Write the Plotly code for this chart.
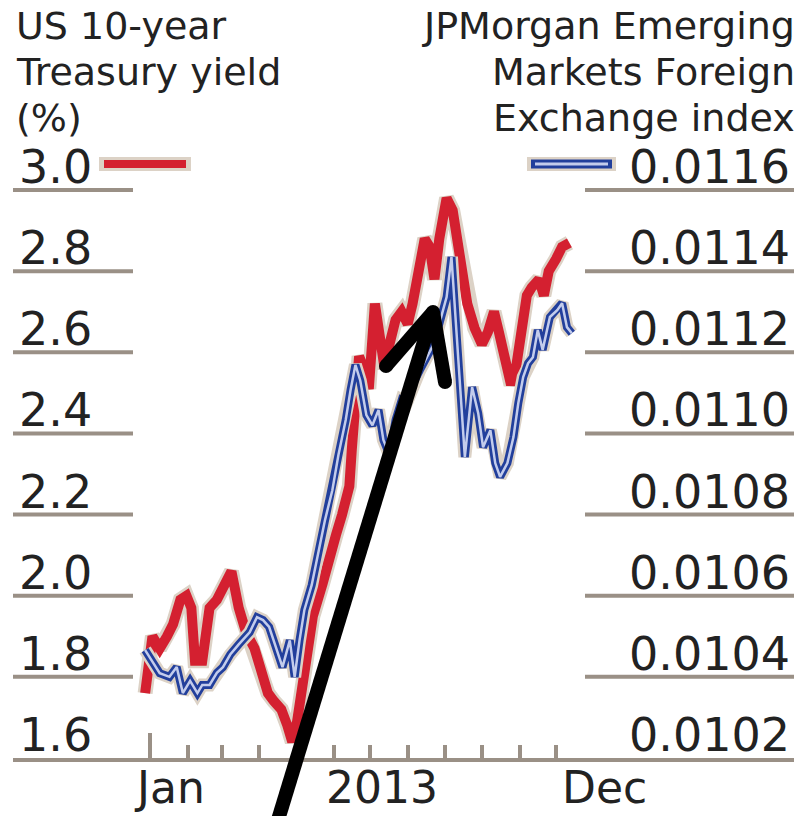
import pandas as pd
import plotly.graph_objects as go

# --- data -------------------------------------------------------------
yield_dates = [
    "2012-12-28", "2013-01-03", "2013-01-05", "2013-01-09", "2013-01-15", "2013-01-20",
    "2013-01-26", "2013-01-31", "2013-02-04", "2013-02-07", "2013-02-13", "2013-02-19",
    "2013-02-25", "2013-03-03", "2013-03-09", "2013-03-15", "2013-03-21", "2013-03-28",
    "2013-04-03", "2013-04-08", "2013-04-13", "2013-04-19", "2013-04-24", "2013-04-28",
    "2013-05-02", "2013-05-07", "2013-05-11", "2013-05-15", "2013-05-23", "2013-05-29",
    "2013-06-03", "2013-06-08", "2013-06-14", "2013-06-16", "2013-06-19", "2013-06-22",
    "2013-06-26", "2013-06-30", "2013-07-05", "2013-07-09", "2013-07-13", "2013-07-17",
    "2013-07-22", "2013-07-27", "2013-08-01", "2013-08-05", "2013-08-09", "2013-08-15",
    "2013-08-19", "2013-08-23", "2013-08-27", "2013-09-02", "2013-09-07", "2013-09-11",
    "2013-09-15", "2013-09-19", "2013-09-25", "2013-10-01", "2013-10-06", "2013-10-11",
    "2013-10-15", "2013-10-21", "2013-10-25", "2013-10-29", "2013-11-02", "2013-11-07",
    "2013-11-11", "2013-11-17", "2013-11-21", "2013-11-25", "2013-12-01", "2013-12-06",
    "2013-12-12",
]
us10y_yield = [
    1.76, 1.90, 1.89, 1.87, 1.90, 1.93,
    1.99, 2.00, 1.97, 1.84, 1.84, 1.97,
    1.99, 2.02, 2.06, 1.97, 1.91, 1.87,
    1.81, 1.76, 1.74, 1.72, 1.68, 1.64,
    1.69, 1.79, 1.85, 1.95, 2.03, 2.11,
    2.15, 2.20, 2.27, 2.36, 2.48, 2.59,
    2.56, 2.51, 2.72, 2.65, 2.56, 2.62,
    2.68, 2.70, 2.67, 2.72, 2.79, 2.88,
    2.86, 2.78, 2.88, 2.98, 2.95, 2.88,
    2.80, 2.72, 2.66, 2.62, 2.65, 2.70,
    2.65, 2.58, 2.52, 2.56, 2.66, 2.74,
    2.76, 2.78, 2.74, 2.80, 2.83, 2.86,
    2.87,
]

fx_dates = [
    "2012-12-28", "2013-01-09", "2013-01-17", "2013-01-23", "2013-01-28", "2013-02-03",
    "2013-02-09", "2013-02-13", "2013-02-19", "2013-02-25", "2013-03-02", "2013-03-08",
    "2013-03-15", "2013-03-24", "2013-03-30", "2013-04-04", "2013-04-09", "2013-04-15",
    "2013-04-20", "2013-04-26", "2013-04-30", "2013-05-04", "2013-05-08", "2013-05-14",
    "2013-05-19", "2013-05-25", "2013-05-31", "2013-06-05", "2013-06-11", "2013-06-15",
    "2013-06-19", "2013-06-23", "2013-06-28", "2013-07-03", "2013-07-08", "2013-07-12",
    "2013-07-17", "2013-07-22", "2013-07-27", "2013-07-31", "2013-08-05", "2013-08-11",
    "2013-08-17", "2013-08-22", "2013-08-27", "2013-09-02", "2013-09-06", "2013-09-10",
    "2013-09-14", "2013-09-17", "2013-09-23", "2013-09-28", "2013-10-02", "2013-10-08",
    "2013-10-12", "2013-10-16", "2013-10-22", "2013-10-27", "2013-10-31", "2013-11-04",
    "2013-11-08", "2013-11-12", "2013-11-16", "2013-11-20", "2013-11-26", "2013-12-02",
    "2013-12-06", "2013-12-10", "2013-12-14",
]
em_fx_index = [
    0.010466, 0.010409, 0.010400, 0.010424, 0.010360, 0.010390,
    0.010360, 0.010380, 0.010380, 0.010410, 0.010424, 0.010455,
    0.010480, 0.010510, 0.010547, 0.010540, 0.010523, 0.010466,
    0.010424, 0.010490, 0.010400, 0.010490, 0.010565, 0.010626,
    0.010700, 0.010787, 0.010860, 0.010947, 0.011033, 0.011107,
    0.011169, 0.011130, 0.011045, 0.011020, 0.011058, 0.010984,
    0.010947, 0.011033, 0.011082, 0.011075, 0.011120, 0.011156,
    0.011190, 0.011218, 0.011270, 0.011336, 0.011435, 0.011255,
    0.011075, 0.010942, 0.011114, 0.011050, 0.010966, 0.011008,
    0.010927, 0.010893, 0.010927, 0.010991, 0.011075, 0.011139,
    0.011173, 0.011188, 0.011255, 0.011206, 0.011287, 0.011304,
    0.011321, 0.011262, 0.011247,
]

left_ticks = [1.6, 1.8, 2.0, 2.2, 2.4, 2.6, 2.8, 3.0]
right_ticks = [0.0102, 0.0104, 0.0106, 0.0108, 0.0110, 0.0112, 0.0114, 0.0116]
month_starts = pd.date_range("2013-01-01", "2013-12-01", freq="MS")
x_labels = [("2013-01-17", "Jan"), ("2013-07-11", "2013"), ("2014-01-10", "Dec")]
left_title = ["US 10-year", "Treasury yield", "(%)"]
right_title = ["JPMorgan Emerging", "Markets Foreign", "Exchange index"]

# --- geometry / styling ----------------------------------------------
W, H = 794, 816
ML, MR, MT, MB = 13, 0, 140, 58
PW, PH = W - ML - MR, H - MT - MB
BOTTOM = H - MB
PX_PER_STEP = 81.14          # vertical pixels between gridlines
PX_PER_DAY = 1.2156
JAN1_PX = 150

def fx(px):
    return (px - ML) / PW

def fy(py):
    return (BOTTOM - py) / PH

y_top = left_ticks[0] + PH / PX_PER_STEP * 0.2
y2_top = right_ticks[0] + PH / PX_PER_STEP * 0.0002
jan1 = pd.Timestamp("2013-01-01")
x_start = jan1 - pd.Timedelta(days=(JAN1_PX - ML) / PX_PER_DAY)
x_end = jan1 + pd.Timedelta(days=(W - MR - JAN1_PX) / PX_PER_DAY)

RED = "#d42030"
BLUE = "#223f9c"
BLUE_IN = "#c3ccec"
HALO = "#dcd2c6"
GRID = "#9a9086"
TXT = "#222222"
FONT = "DejaVu Sans"

fig = go.Figure()

# EM FX index (right scale): halo, dark outline, light core
for col, w in [(HALO, 13), (BLUE, 8), (BLUE_IN, 2.5)]:
    fig.add_trace(go.Scatter(x=fx_dates, y=em_fx_index, yaxis="y2", mode="lines",
                             line=dict(color=col, width=w), hoverinfo="skip"))
# US 10-year yield (left scale)
for col, w in [(HALO, 15), (RED, 10)]:
    fig.add_trace(go.Scatter(x=yield_dates, y=us10y_yield, mode="lines",
                             line=dict(color=col, width=w), hoverinfo="skip"))

shapes = []
annotations = []

# short gridlines under the value labels
for v in left_ticks[1:]:
    shapes.append(dict(type="line", xref="paper", yref="y", x0=fx(ML), x1=fx(133),
                       y0=v, y1=v, line=dict(color=GRID, width=4), layer="below"))
for v in right_ticks[1:]:
    shapes.append(dict(type="line", xref="paper", yref="y2", x0=fx(585), x1=1,
                       y0=v, y1=v, line=dict(color=GRID, width=4), layer="below"))

for v in left_ticks:
    annotations.append(dict(xref="paper", yref="y", x=fx(17), y=v, text=f"{v:.1f}",
                            xanchor="left", yanchor="bottom", yshift=-6, showarrow=False,
                            font=dict(family=FONT, size=46, color=TXT)))
for v in right_ticks:
    annotations.append(dict(xref="paper", yref="y2", x=fx(792), y=v, text=f"{v:.4f}",
                            xanchor="right", yanchor="bottom", yshift=-6, showarrow=False,
                            font=dict(family=FONT, size=46, color=TXT)))

for d, t in x_labels:
    annotations.append(dict(xref="x", yref="paper", x=d, y=0, text=t, xanchor="center",
                            yanchor="top", yshift=-2, showarrow=False,
                            font=dict(family=FONT, size=44, color=TXT)))

title_rows = [26, 72, 118]
for t, py in zip(left_title, title_rows):
    annotations.append(dict(xref="paper", yref="paper", x=fx(14), y=fy(py), text=t,
                            xanchor="left", yanchor="middle", showarrow=False,
                            font=dict(family=FONT, size=38, color=TXT)))
for t, py in zip(right_title, title_rows):
    annotations.append(dict(xref="paper", yref="paper", x=fx(797), y=fy(py), text=t,
                            xanchor="right", yanchor="middle", showarrow=False,
                            font=dict(family=FONT, size=38, color=TXT)))

# key swatches beside the top labels
ky = 164
shapes += [
    dict(type="line", xref="paper", yref="paper", x0=fx(99), x1=fx(191), y0=fy(ky), y1=fy(ky),
         line=dict(color=HALO, width=14)),
    dict(type="line", xref="paper", yref="paper", x0=fx(104), x1=fx(186), y0=fy(ky), y1=fy(ky),
         line=dict(color=RED, width=8)),
    dict(type="line", xref="paper", yref="paper", x0=fx(527), x1=fx(616), y0=fy(ky), y1=fy(ky),
         line=dict(color=HALO, width=14)),
    dict(type="line", xref="paper", yref="paper", x0=fx(531), x1=fx(612), y0=fy(ky), y1=fy(ky),
         line=dict(color=BLUE, width=9)),
    dict(type="line", xref="paper", yref="paper", x0=fx(535), x1=fx(608), y0=fy(ky), y1=fy(ky),
         line=dict(color=BLUE_IN, width=3)),
]

# pointer arrow with rounded ends
tip = (433, 312)
wing_l = (386, 366)
wing_r = (445, 382)
shapes += [
    dict(type="line", xref="paper", yref="paper", x0=fx(278), y0=fy(820), x1=fx(tip[0]),
         y1=fy(tip[1]), line=dict(color="black", width=14)),
    dict(type="line", xref="paper", yref="paper", x0=fx(wing_l[0]), y0=fy(wing_l[1]),
         x1=fx(tip[0]), y1=fy(tip[1]), line=dict(color="black", width=14)),
    dict(type="line", xref="paper", yref="paper", x0=fx(wing_r[0]), y0=fy(wing_r[1]),
         x1=fx(tip[0]), y1=fy(tip[1]), line=dict(color="black", width=14)),
]
for cx, cy in (tip, wing_l, wing_r):
    shapes.append(dict(type="circle", xref="paper", yref="paper",
                       x0=fx(cx - 7), x1=fx(cx + 7), y0=fy(cy + 7), y1=fy(cy - 7),
                       fillcolor="black", line=dict(width=0)))

fig.update_layout(
    width=W, height=H,
    margin=dict(l=ML, r=MR, t=MT, b=MB, pad=0),
    paper_bgcolor="white", plot_bgcolor="white",
    showlegend=False,
    xaxis=dict(range=[x_start, x_end], showgrid=False, zeroline=False,
               showline=True, linecolor=GRID, linewidth=4,
               tickmode="array", tickvals=[month_starts[0]], ticktext=[""],
               ticks="inside", ticklen=25, tickwidth=4, tickcolor=GRID,
               minor=dict(tickmode="array", tickvals=list(month_starts[1:]),
                          ticks="inside", ticklen=13, tickwidth=4, tickcolor=GRID),
               fixedrange=True),
    yaxis=dict(range=[left_ticks[0], y_top], visible=False, fixedrange=True),
    yaxis2=dict(range=[right_ticks[0], y2_top], overlaying="y", side="right",
                visible=False, fixedrange=True),
    shapes=shapes,
    annotations=annotations,
)

fig.write_html("out.html")
